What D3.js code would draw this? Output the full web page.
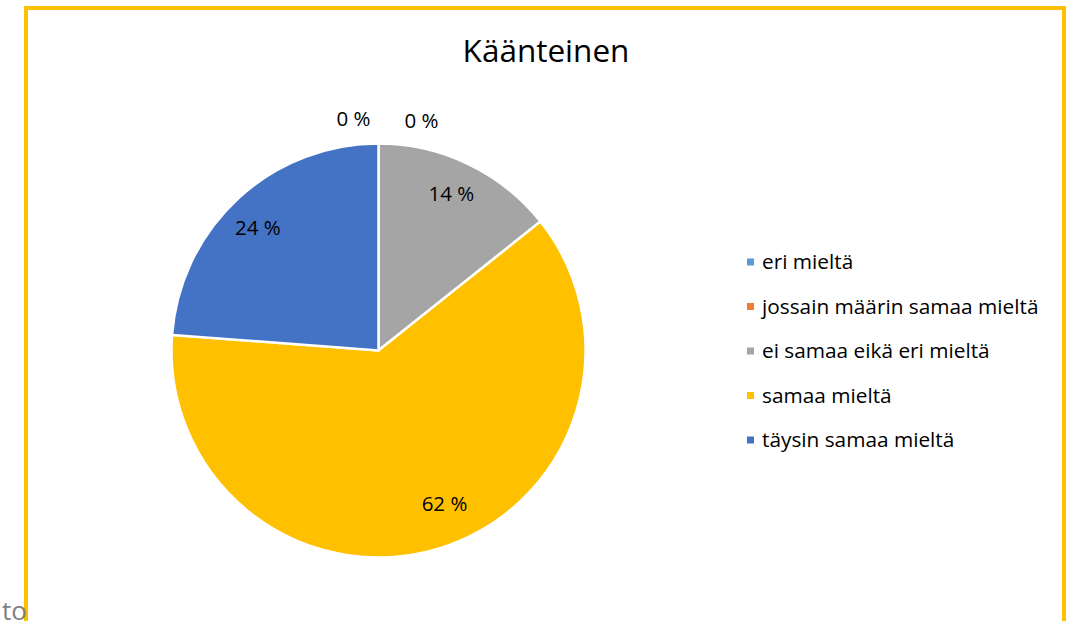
<!DOCTYPE html>
<html>
<head>
<meta charset="utf-8">
<script src="https://cdn.jsdelivr.net/npm/d3@7"></script>
<style>
  body { margin: 0; background: #fff; }
  text { font-family: "Open Sans", sans-serif; }
</style>
</head>
<body>
<script>
// data
const categories = ["eri mieltä", "jossain määrin samaa mieltä", "ei samaa eikä eri mieltä", "samaa mieltä", "täysin samaa mieltä"];
const values = [0, 0, 14.3, 61.9, 23.8];
const labels = ["0 %", "0 %", "14 %", "62 %", "24 %"];
const colors = ["#5B9BD5", "#ED7D31", "#A5A5A5", "#FFC000", "#4472C4"];

const svgWidth = 1066;
const svgHeight = 621;
const cx = 378.5, cy = 350.5, radius = 207;

const svg = d3.select("body")
  .append("svg")
  .attr("width", svgWidth)
  .attr("height", svgHeight);

// frame
svg.append("rect")
  .attr("x", 26)
  .attr("y", 8)
  .attr("width", 1038)
  .attr("height", 700)
  .attr("fill", "none")
  .attr("stroke", "#FFC000")
  .attr("stroke-width", 4);

svg.append("text")
  .attr("x", 27)
  .attr("y", 620)
  .attr("text-anchor", "end")
  .style("font-size", "26px")
  .attr("fill", "#7f7f7f")
  .text("to");

// title
svg.append("text")
  .attr("x", 546)
  .attr("y", 62)
  .attr("text-anchor", "middle")
  .style("font-size", "31.5px")
  .attr("fill", "#000")
  .text("Käänteinen");

const pie = d3.pie().sort(null).value(function (d) { return d; });
const arcs = pie(values);
const arc = d3.arc().innerRadius(0).outerRadius(radius);
const labelArc = d3.arc().innerRadius(170).outerRadius(170);
const outerArc = d3.arc().innerRadius(232).outerRadius(232);

const g = svg.append("g").attr("transform", "translate(" + cx + "," + cy + ")");

g.selectAll("path")
  .data(arcs)
  .enter()
  .append("path")
  .attr("d", arc)
  .attr("fill", function (d, i) { return colors[i]; })
  .attr("stroke", "#fff")
  .attr("stroke-width", 2.5);

// small nudges like excel's best fit label placement
const labelNudge = { 0: [-25, 0], 1: [43, 2], 2: [-1, -4], 3: [16, -9], 4: [-5, 2] };

g.selectAll(".lbl")
  .data(arcs)
  .enter()
  .append("text")
  .attr("class", "lbl")
  .attr("transform", function (d, i) {
    const p = d.value === 0 ? outerArc.centroid(d) : labelArc.centroid(d);
    return "translate(" + (p[0] + labelNudge[i][0]) + "," + (p[1] + labelNudge[i][1]) + ")";
  })
  .attr("text-anchor", "middle")
  .attr("dy", "0.35em")
  .style("font-size", "20.5px")
  .attr("fill", "#000")
  .text(function (d, i) { return labels[i]; });

// legend
const legend = svg.append("g").attr("transform", "translate(747,262)");
const rows = legend.selectAll("g")
  .data(categories)
  .enter()
  .append("g")
  .attr("transform", function (d, i) { return "translate(0," + (i * 44.5) + ")"; });

rows.append("rect")
  .attr("x", 0)
  .attr("y", -3.5)
  .attr("width", 7)
  .attr("height", 7)
  .attr("fill", function (d, i) { return colors[i]; });

rows.append("text")
  .attr("x", 15)
  .attr("dy", "0.35em")
  .style("font-size", "20.8px")
  .attr("fill", "#000")
  .text(function (d) { return d; });
</script>
</body>
</html>
